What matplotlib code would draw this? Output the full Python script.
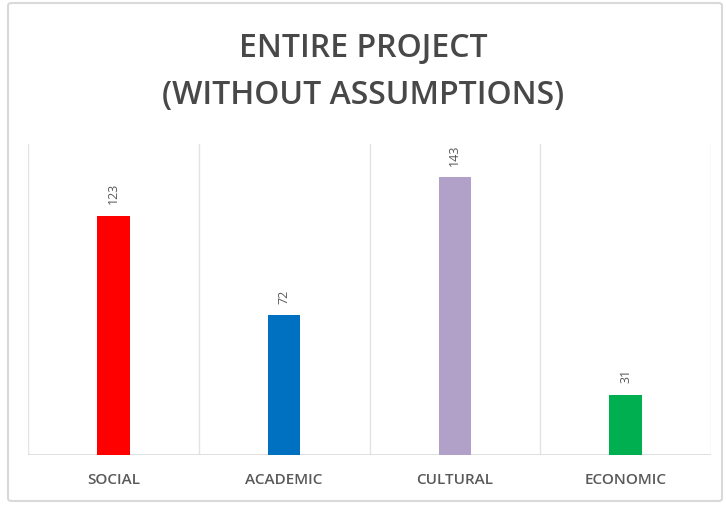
import matplotlib
matplotlib.use("Agg")
import matplotlib.pyplot as plt
from matplotlib.patches import FancyBboxPatch

categories = ["SOCIAL", "ACADEMIC", "CULTURAL", "ECONOMIC"]
values = [123, 72, 143, 31]
colors = ["#FF0000", "#0070C0", "#B1A0C7", "#00B050"]
title = "ENTIRE PROJECT\n(WITHOUT ASSUMPTIONS)"

fig = plt.figure(figsize=(7.26, 5.06), dpi=100)
fig.patch.set_facecolor("white")
border = FancyBboxPatch((8/726, 4/506), (722-8)/726, (502-4)/506,
                        boxstyle="round,pad=0,rounding_size=0.005",
                        transform=fig.transFigure, fill=False,
                        edgecolor="#D9D9D9", linewidth=1.5)
fig.patches.append(border)

ax = fig.add_axes([28/726, 50/506, (711-28)/726, (456-145)/506])
x = list(range(len(categories)))
ax.bar(x, values, width=0.19, color=colors, zorder=3)
ax.set_xlim(-0.5, len(categories) - 0.5)
ax.set_ylim(0, 160)
for b in [i - 0.5 for i in range(len(categories) + 1)]:
    ax.axvline(b, color="#E3E3E3", linewidth=1, zorder=1)
ax.axhline(0, color="#D9D9D9", linewidth=1.2, zorder=2)
for s in ax.spines.values():
    s.set_visible(False)
ax.set_yticks([])
ax.set_xticks(x)
ax.set_xticklabels(categories, fontsize=11, color="#595959",
                   family="Open Sans", fontweight="semibold")
ax.tick_params(axis="x", length=0, pad=12)
for xi, v in zip(x, values):
    ax.annotate(str(v), (xi, v), xytext=(0, 9), textcoords="offset points",
                rotation=90, ha="center", va="bottom", fontsize=9,
                color="#595959", family="Open Sans")

fig.text(0.5, 1 - 72/506, title, ha="center", va="center",
         fontsize=23, color="#484848", family="Open Sans", linespacing=1.6,
         fontweight="semibold")
fig.savefig("out.png", dpi=100, facecolor="white")
